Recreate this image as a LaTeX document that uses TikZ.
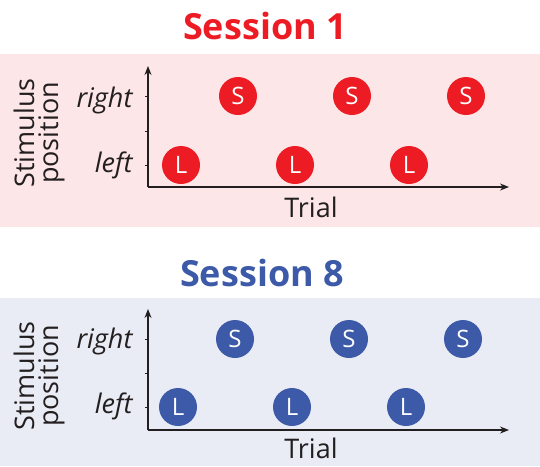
\documentclass[tikz,border=0pt]{standalone}
\usepackage{fontspec}
\setmainfont{Open Sans}
\usetikzlibrary{arrows.meta}
\definecolor{sesred}{HTML}{ED1C24}
\definecolor{sespink}{HTML}{FCE6E7}
\definecolor{sesblue}{HTML}{3D5AA8}
\definecolor{seslight}{HTML}{E9EBF5}
\definecolor{axisgray}{HTML}{231F20}
\begin{document}
\begin{tikzpicture}[x=1pt,y=-1pt,
	trialdot/.style={circle,inner sep=0pt,minimum size=38pt,text=white,font=\fontsize{24}{24}\selectfont},
	axisline/.style={draw=axisgray,line width=1.2pt,-{Stealth[length=9pt,width=7pt]}},
	ticks/.style={draw=axisgray,line width=1pt},
	title/.style={font=\fontsize{36}{36}\selectfont\bfseries,anchor=base},
	axislabel/.style={font=\fontsize{27}{27}\selectfont,text=axisgray,anchor=base},
	poslabel/.style={font=\fontsize{27}{27}\selectfont\itshape,text=axisgray,anchor=base east},
	ylabel/.style={font=\fontsize{27}{24}\selectfont,text=axisgray,align=center,rotate=90}]
	\useasboundingbox (0,0) rectangle (540,466);
	% Session 1
	\fill[sespink] (0,54) rectangle (540,227);
	\node[title,text=sesred] (title1) at (265,39) {Session 1};
	\coordinate (orig1) at (148,187);
	\coordinate (ytip1) at (148,66);
	\coordinate (xtip1) at (509,187);
	\draw[axisline] (orig1) -- (ytip1);
	\draw[axisline] (orig1) -- (xtip1);
	\draw[ticks] (145,96) -- (148,96);
	\draw[ticks] (145,131) -- (148,131);
	\draw[ticks] (145,165) -- (148,165);
	\node[poslabel] (right1) at (136,107) {right};
	\node[poslabel] (left1) at (136,172) {left};
	\node[axislabel] (trial1) at (311,217) {Trial};
	\node[ylabel] (stim1) at (39,133) {Stimulus\\position};
	\node[trialdot,fill=sesred] (l11) at (181,165) {L};
	\node[trialdot,fill=sesred] (s11) at (238,96) {S};
	\node[trialdot,fill=sesred] (l12) at (295,165) {L};
	\node[trialdot,fill=sesred] (s12) at (352,96) {S};
	\node[trialdot,fill=sesred] (l13) at (409,165) {L};
	\node[trialdot,fill=sesred] (s13) at (466,96) {S};
	% Session 8
	\fill[seslight] (0,298) rectangle (540,466);
	\node[title,text=sesblue] (title8) at (262,286) {Session 8};
	\coordinate (orig8) at (148,430);
	\coordinate (ytip8) at (148,309);
	\coordinate (xtip8) at (509,430);
	\draw[axisline] (orig8) -- (ytip8);
	\draw[axisline] (orig8) -- (xtip8);
	\draw[ticks] (145,339) -- (148,339);
	\draw[ticks] (145,373) -- (148,373);
	\draw[ticks] (145,407) -- (148,407);
	\node[poslabel] (right8) at (136,348) {right};
	\node[poslabel] (left8) at (136,413) {left};
	\node[axislabel] (trial8) at (311,458) {Trial};
	\node[ylabel] (stim8) at (39,376) {Stimulus\\position};
	\node[trialdot,fill=sesblue] (l81) at (178,407) {L};
	\node[trialdot,fill=sesblue] (s81) at (235,339) {S};
	\node[trialdot,fill=sesblue] (l82) at (292,407) {L};
	\node[trialdot,fill=sesblue] (s82) at (349,339) {S};
	\node[trialdot,fill=sesblue] (l83) at (406,407) {L};
	\node[trialdot,fill=sesblue] (s83) at (463,339) {S};
\end{tikzpicture}
\end{document}
